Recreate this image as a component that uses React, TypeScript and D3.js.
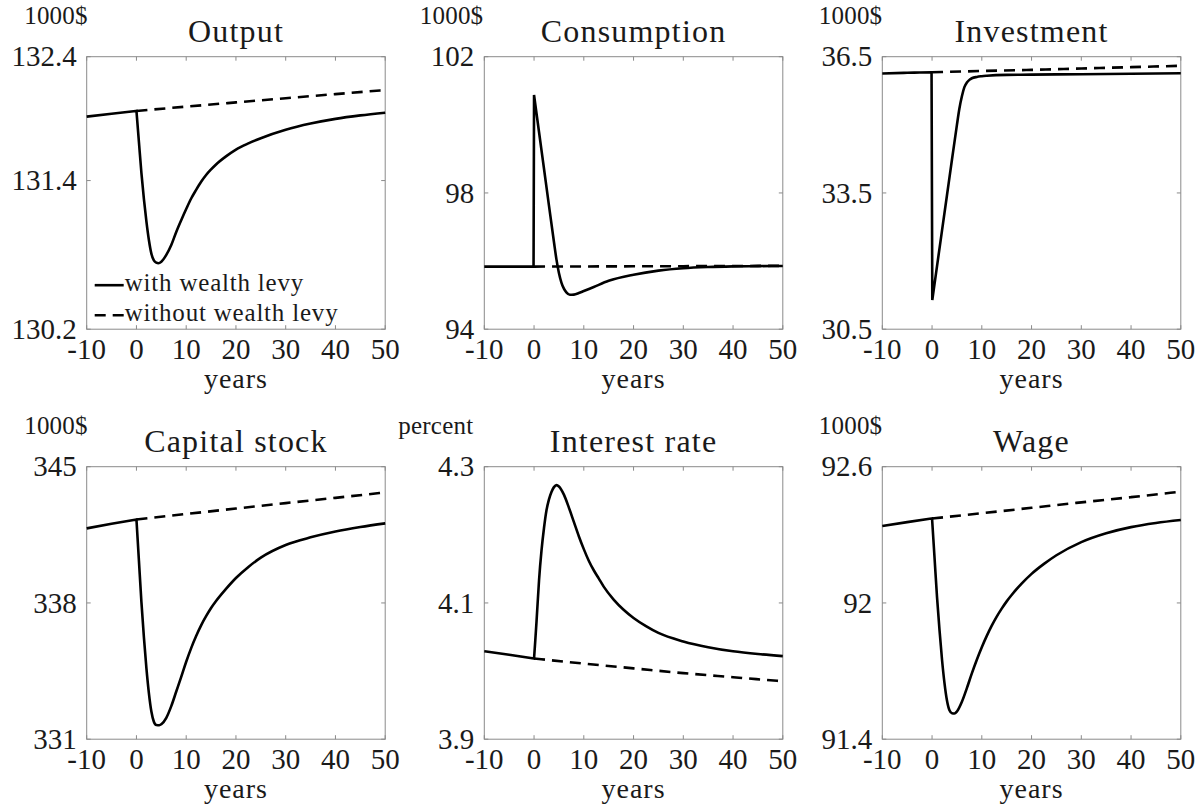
import React from 'react';
import * as d3 from 'd3';

// ---------- shared ----------
const xTickValues = [-10, 0, 10, 20, 30, 40, 50];
const xTickLabels = ['-10', '0', '10', '20', '30', '40', '50'];
const xAxisLabel = 'years';
const legendLabels = ['with wealth levy', 'without wealth levy'];
const withoutT = [0, 10, 20, 30, 40, 50];

// ---------- Output ----------
const outputT = [-10, -5, 0, 0.5, 1, 1.5, 2, 2.5, 3, 3.5, 4, 4.4, 5, 6, 7, 8, 9, 10, 11, 12, 13, 14, 15, 16, 18, 20, 22.5, 25, 30, 35, 40, 45, 50];
const outputWith = [131.916, 131.94, 131.962, 131.71, 131.46, 131.25, 131.07, 130.92, 130.81, 130.755, 130.737, 130.733, 130.745, 130.8, 130.88, 130.985, 131.08, 131.17, 131.255, 131.325, 131.39, 131.445, 131.49, 131.53, 131.595, 131.65, 131.7, 131.742, 131.81, 131.86, 131.898, 131.926, 131.948];
const outputWithout = [131.962, 131.997, 132.031, 132.065, 132.098, 132.131];
const outputTicks = [130.2, 131.4, 132.4];
const outputTickLabels = ['130.2', '131.4', '132.4'];

// ---------- Consumption ----------
const consT = [-10, -0.1, 0, 1, 2, 3, 4, 4.5, 5, 5.5, 6, 6.5, 7.2, 8, 9, 10, 12, 15, 20, 25, 30, 35, 40, 45, 50];
const consWith = [95.838, 95.838, 100.876, 99.79, 98.71, 97.63, 96.56, 96.05, 95.65, 95.37, 95.19, 95.08, 95.01, 95.015, 95.06, 95.12, 95.24, 95.42, 95.6, 95.72, 95.79, 95.825, 95.843, 95.852, 95.857];
const consWithout = [95.838, 95.842, 95.846, 95.85, 95.855, 95.86];
const consTicks = [94, 98, 102];
const consTickLabels = ['94', '98', '102'];

// ---------- Investment ----------
const invT = [-10, -5, -0.1, 0.05, 1, 2, 3, 4, 5, 5.5, 6, 6.5, 7, 7.5, 8, 9, 10, 11, 15, 20, 30, 40, 50];
const invWith = [36.13, 36.145, 36.157, 31.144, 31.89, 32.67, 33.45, 34.23, 35.0, 35.36, 35.63, 35.83, 35.93, 35.99, 36.025, 36.055, 36.07, 36.08, 36.1, 36.105, 36.115, 36.125, 36.135];
const invWithout = [36.157, 36.185, 36.21, 36.24, 36.27, 36.3];
const invTicks = [30.5, 33.5, 36.5];
const invTickLabels = ['30.5', '33.5', '36.5'];

// ---------- Capital stock ----------
const capT = [-10, -5, 0, 0.5, 1, 1.5, 2, 2.5, 3, 3.5, 4, 4.6, 5, 6, 7, 8, 9, 10, 11, 12, 13, 14, 15, 16, 18, 20, 22.5, 25, 30, 35, 40, 45, 50];
const capWith = [341.83, 342.07, 342.29, 340.16, 338.04, 336.23, 334.65, 333.37, 332.42, 331.9, 331.73, 331.72, 331.77, 332.1, 332.7, 333.45, 334.2, 334.98, 335.68, 336.3, 336.85, 337.32, 337.74, 338.1, 338.72, 339.28, 339.85, 340.33, 340.98, 341.37, 341.67, 341.9, 342.09];
const capWithout = [342.29, 342.57, 342.85, 343.13, 343.4, 343.68];
const capTicks = [331, 338, 345];
const capTickLabels = ['331', '338', '345'];

// ---------- Interest rate ----------
const rateT = [-10, -5, 0, 0.25, 0.5, 1, 1.5, 2, 2.5, 3, 3.5, 4, 4.5, 5, 6, 7, 8, 9, 10, 11, 12, 13, 14, 16, 18, 20, 22.5, 25, 30, 35, 40, 45, 50];
const rateWith = [4.029, 4.024, 4.0185, 4.045, 4.073, 4.133, 4.177, 4.21, 4.236, 4.252, 4.263, 4.27, 4.273, 4.271, 4.259, 4.24, 4.219, 4.198, 4.179, 4.162, 4.148, 4.136, 4.124, 4.105, 4.09, 4.078, 4.066, 4.056, 4.0435, 4.035, 4.029, 4.025, 4.022];
const rateWithout = [4.0185, 4.011, 4.004, 3.997, 3.991, 3.985];
const rateTicks = [3.9, 4.1, 4.3];
const rateTickLabels = ['3.9', '4.1', '4.3'];

// ---------- Wage ----------
const wageT = [-10, -5, 0, 0.5, 1, 1.5, 2, 2.5, 3, 3.5, 4, 4.5, 5, 6, 7, 8, 9, 10, 11, 12, 13, 14, 15, 16, 18, 20, 22.5, 25, 30, 35, 40, 45, 50];
const wageWith = [92.339, 92.356, 92.372, 92.199, 92.026, 91.88, 91.751, 91.647, 91.57, 91.527, 91.514, 91.513, 91.522, 91.565, 91.625, 91.69, 91.75, 91.805, 91.855, 91.9, 91.94, 91.975, 92.007, 92.035, 92.085, 92.128, 92.172, 92.21, 92.268, 92.307, 92.334, 92.352, 92.365];
const wageWithout = [92.372, 92.395, 92.419, 92.443, 92.466, 92.49];
const wageTicks = [91.4, 92, 92.6];
const wageTickLabels = ['91.4', '92', '92.6'];

type Panel = {
  title: string;
  unit: string;
  t: number[];
  withLevy: number[];
  withoutLevy: number[];
  breakT: number;
  ticks: number[];
  tickLabels: string[];
  row: number;
  col: number;
  unitRight: number;
  legend?: boolean;
};

const panels: Panel[] = [
  { title: 'Output', unit: '1000$', t: outputT, withLevy: outputWith, withoutLevy: outputWithout, breakT: 0, ticks: outputTicks, tickLabels: outputTickLabels, row: 0, col: 0, unitRight: 1, legend: true },
  { title: 'Consumption', unit: '1000$', t: consT, withLevy: consWith, withoutLevy: consWithout, breakT: 0, ticks: consTicks, tickLabels: consTickLabels, row: 0, col: 1, unitRight: -1 },
  { title: 'Investment', unit: '1000$', t: invT, withLevy: invWith, withoutLevy: invWithout, breakT: 0.05, ticks: invTicks, tickLabels: invTickLabels, row: 0, col: 2, unitRight: 0 },
  { title: 'Capital stock', unit: '1000$', t: capT, withLevy: capWith, withoutLevy: capWithout, breakT: 0, ticks: capTicks, tickLabels: capTickLabels, row: 1, col: 0, unitRight: 1 },
  { title: 'Interest rate', unit: 'percent', t: rateT, withLevy: rateWith, withoutLevy: rateWithout, breakT: 0, ticks: rateTicks, tickLabels: rateTickLabels, row: 1, col: 1, unitRight: -11 },
  { title: 'Wage', unit: '1000$', t: wageT, withLevy: wageWith, withoutLevy: wageWithout, breakT: 0, ticks: wageTicks, tickLabels: wageTickLabels, row: 1, col: 2, unitRight: 0 },
];

const W = 1200;
const H = 809;
const colLeft = [86.7, 484.3, 882.3];
const rowTop = [56.7, 466.7];
const plotW = 298.5;
const plotH = 272.5;
const FONT = "'Liberation Serif', 'Times New Roman', serif";
const TEXT = '#1a1a1a';
const AXIS = '#8a8a8a';

function PanelView({ p }: { p: Panel }) {
  const left = colLeft[p.col];
  const top = rowTop[p.row];
  const right = left + plotW;
  const bottom = top + plotH;
  const x = d3.scaleLinear().domain([-10, 50]).range([left, right]);
  const y = d3.scaleLinear().domain([p.ticks[0], p.ticks[p.ticks.length - 1]]).range([bottom, top]);
  const line = d3
    .line<[number, number]>()
    .x((d) => x(d[0]))
    .y((d) => y(d[1]))
    .curve(d3.curveMonotoneX);
  const pts: [number, number][] = p.t.map((t, i) => [t, p.withLevy[i]]);
  const k = p.t.indexOf(p.breakT);
  const segA = pts.slice(0, k + 1);
  const segB = pts.slice(k);
  const solidD = (line(segA) || '') + (line(segB) || '').replace(/^M/, 'L');
  const dashPts: [number, number][] = withoutT.map((t, i) => [t, p.withoutLevy[i]]);
  const dashD = line(dashPts) || '';
  const tickLen = 4;
  const cx = (left + right) / 2;

  return (
    <g>
      <rect x={left} y={top} width={plotW} height={plotH} fill="#fff" stroke={AXIS} strokeWidth={1} />
      {xTickValues.map((v) => (
        <g key={'xt' + v}>
          <line x1={x(v)} x2={x(v)} y1={bottom} y2={bottom - tickLen} stroke={AXIS} strokeWidth={1} />
          <line x1={x(v)} x2={x(v)} y1={top} y2={top + tickLen} stroke={AXIS} strokeWidth={1} />
        </g>
      ))}
      {p.ticks.map((v) => (
        <g key={'yt' + v}>
          <line x1={left} x2={left + tickLen} y1={y(v)} y2={y(v)} stroke={AXIS} strokeWidth={1} />
          <line x1={right} x2={right - tickLen} y1={y(v)} y2={y(v)} stroke={AXIS} strokeWidth={1} />
        </g>
      ))}
      <path d={dashD} fill="none" stroke="#000" strokeWidth={2.6} strokeDasharray="11,7" />
      <path d={solidD} fill="none" stroke="#000" strokeWidth={2.6} />
      {xTickValues.map((v, i) => (
        <text key={'xl' + v} x={x(v)} y={bottom + 30} textAnchor="middle" fontSize={29} fontFamily={FONT} fill={TEXT}>
          {xTickLabels[i]}
        </text>
      ))}
      {p.ticks.map((v, i) => (
        <text key={'yl' + v} x={left - 10} y={y(v) + 9.6} textAnchor="end" fontSize={29} fontFamily={FONT} fill={TEXT}>
          {p.tickLabels[i]}
        </text>
      ))}
      <text x={cx} y={bottom + 59} textAnchor="middle" fontSize={28} letterSpacing={1} fontFamily={FONT} fill={TEXT}>
        {xAxisLabel}
      </text>
      <text x={cx} y={top - 15} textAnchor="middle" fontSize={32} letterSpacing={1.2} fontFamily={FONT} fill={TEXT}>
        {p.title}
      </text>
      <text x={left + p.unitRight} y={top - 33} textAnchor="end" fontSize={25} letterSpacing={0.2} fontFamily={FONT} fill={TEXT}>
        {p.unit}
      </text>
      {p.legend && (
        <g>
          <line x1={left + 8} x2={left + 37} y1={bottom - 44} y2={bottom - 44} stroke="#000" strokeWidth={2.6} />
          <text x={left + 38} y={bottom - 38} fontSize={25} letterSpacing={0.8} fontFamily={FONT} fill={TEXT}>
            {legendLabels[0]}
          </text>
          <line x1={left + 8} x2={left + 37} y1={bottom - 14} y2={bottom - 14} stroke="#000" strokeWidth={2.6} strokeDasharray="11,7" />
          <text x={left + 38} y={bottom - 8} fontSize={25} letterSpacing={0.8} fontFamily={FONT} fill={TEXT}>
            {legendLabels[1]}
          </text>
        </g>
      )}
    </g>
  );
}

export default function App() {
  return (
    <svg
      width={W}
      height={H}
      viewBox={`0 0 ${W} ${H}`}
      style={{ position: 'absolute', left: 0, top: 0, background: '#fff' }}
    >
      <rect x={0} y={0} width={W} height={H} fill="#fff" />
      {panels.map((p) => (
        <PanelView key={p.title} p={p} />
      ))}
    </svg>
  );
}
